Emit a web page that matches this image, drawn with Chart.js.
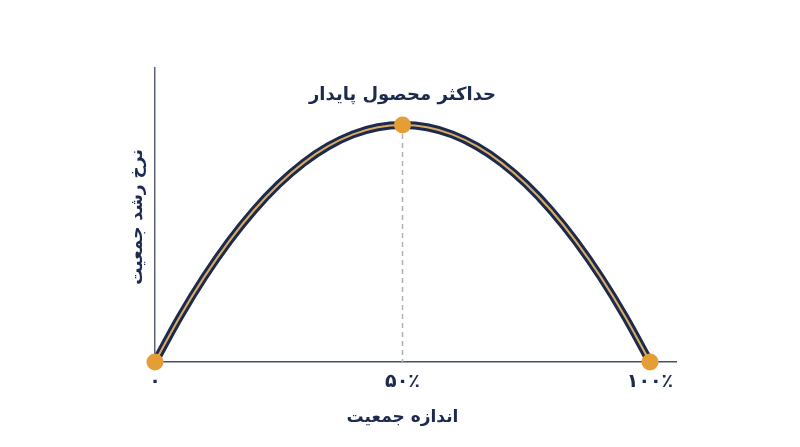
<!DOCTYPE html>
<html><head><meta charset="utf-8">
<script src="https://cdn.jsdelivr.net/npm/chart.js@4"></script>
<style>html,body{margin:0;padding:0;background:#fff}#w{width:800px;height:447px}</style>
</head><body><div id="w"><canvas id="c"></canvas></div>
<script>
const populationSize = [0,5,10,15,20,25,30,35,40,45,50,55,60,65,70,75,80,85,90,95,100];
const growthRate = [0,0.19,0.36,0.51,0.64,0.75,0.84,0.91,0.96,0.99,1,0.99,0.96,0.91,0.84,0.75,0.64,0.51,0.36,0.19,0];
const keyX = [0,50,100];
const keyY = [0,1,0];
const tickValues = [0,50,100];
const tickLabels = ['۰','۵۰٪','۱۰۰٪'];
const peakTitle = 'حداکثر محصول پایدار';
const xTitle = 'اندازه جمعیت';
const yTitle = 'نرخ رشد جمعیت';

const NAVY = '#1c2a4d', ORANGE = '#e59d35', FONT = '"DejaVu Sans", sans-serif';
const curve = populationSize.map((x,i)=>({x, y: growthRate[i]}));
const keys = keyX.map((x,i)=>({x, y: keyY[i]}));

const textPlugin = {
  id: 'texts',
  afterDraw(chart){
    const {ctx, scales:{x, y}, chartArea} = chart;
    ctx.save();
    ctx.fillStyle = NAVY;
    ctx.textAlign = 'center'; ctx.textBaseline = 'middle';
    ctx.direction = 'rtl';
    ctx.font = 'bold 18px ' + FONT;
    ctx.fillText(peakTitle, x.getPixelForValue(50), 95);
    ctx.font = 'bold 17px ' + FONT;
    ctx.fillText(xTitle, x.getPixelForValue(50), 418);
    ctx.translate(138, 217);
    ctx.rotate(-Math.PI/2);
    ctx.fillText(yTitle, 0, 0);
    ctx.restore();
  }
};

new Chart(document.getElementById('c'), {
  type: 'line',
  data: { datasets: [
    { data: [keys[1], {x:50,y:0}], borderColor:'#b0b0b0', borderWidth:1.5, borderDash:[5,4], pointRadius:0, order:4 },
    { data: curve, borderColor: NAVY, borderWidth: 8, pointRadius:0, tension:0.4, cubicInterpolationMode:'monotone', order:3, clip:false },
    { data: curve, borderColor: '#dcab62', borderWidth: 2, pointRadius:0, tension:0.4, cubicInterpolationMode:'monotone', order:2, clip:false },
    { data: keys, showLine:false, pointRadius:8.5, pointBackgroundColor: ORANGE, pointBorderWidth:0, order:1, clip:false }
  ]},
  options: {
    responsive:true, maintainAspectRatio:false, animation:false,
    layout:{ padding:{ top:68, right:124, left:0, bottom:0 } },
    plugins:{ legend:{display:false}, tooltip:{enabled:false}, title:{display:false} },
    scales:{
      x:{ type:'linear', min:0, max:105.25,
        afterBuildTicks(s){ s.ticks = tickValues.map(v=>({value:v})); },
        afterFit(s){ s.height = 85; },
        grid:{ display:false, drawTicks:false },
        border:{ display:true, color:'#46506a', width:1.5 },
        ticks:{ padding:9, color:NAVY, font:{ family:FONT, size:19, weight:'bold' },
          maxRotation:0, autoSkip:false,
          callback(v){ const i = tickValues.indexOf(v); return i>=0 ? tickLabels[i] : ''; } }
      },
      y:{ min:0, max:1.24,
        afterFit(s){ s.width = 155; },
        grid:{ display:false, drawTicks:false },
        border:{ display:true, color:'#5a6275', width:1.5 },
        ticks:{ display:false }
      }
    }
  },
  plugins:[textPlugin]
});
</script></body></html>
